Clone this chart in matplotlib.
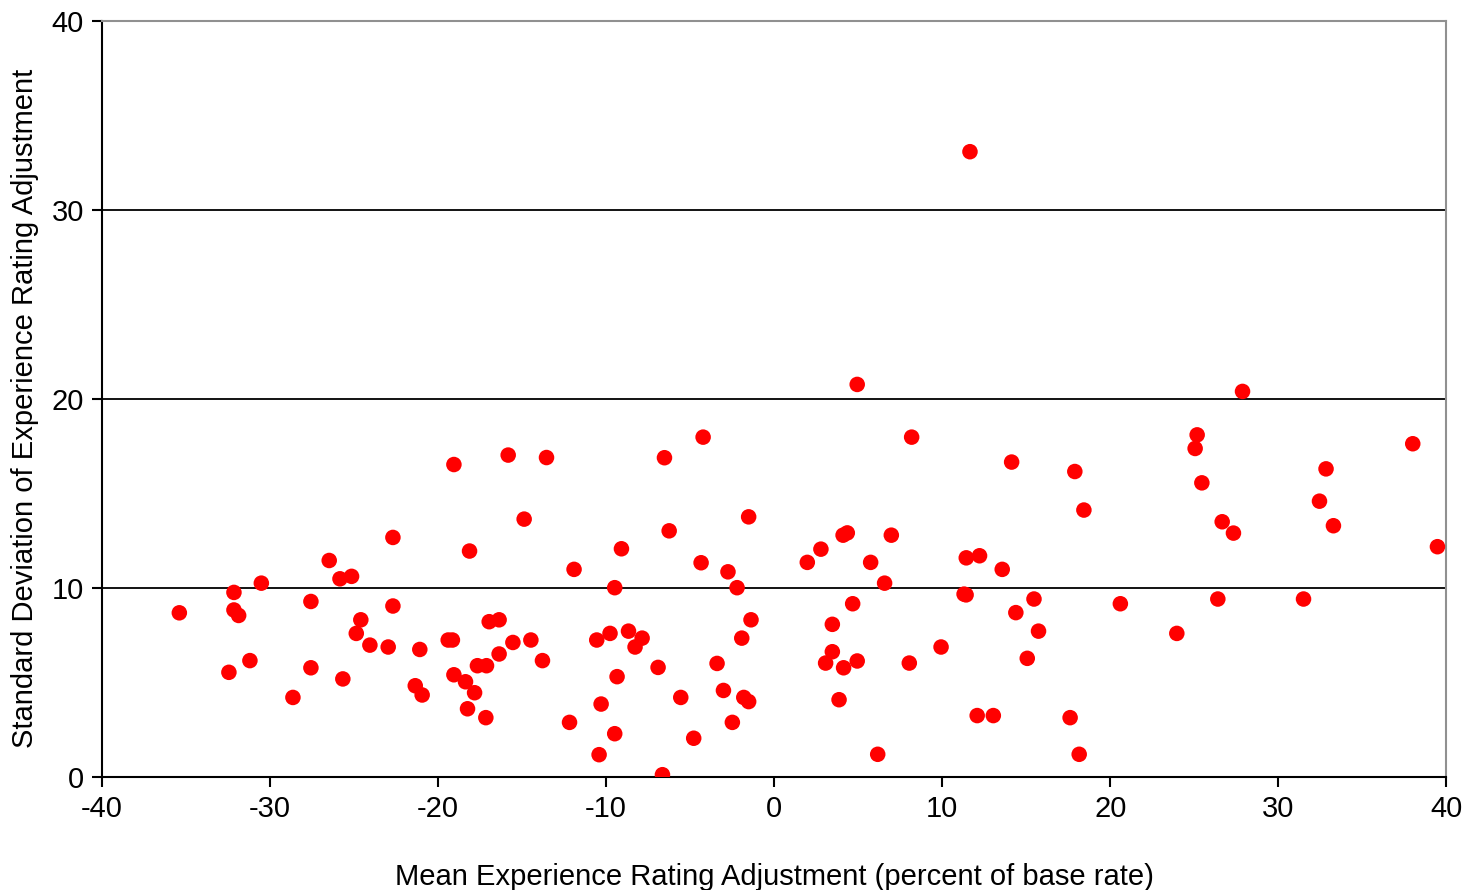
import matplotlib
matplotlib.use("Agg")
import matplotlib.pyplot as plt

plt.rcParams['font.family'] = ['Liberation Sans', 'DejaVu Sans']
plt.rcParams['axes.unicode_minus'] = False

# mean adjustment (percent of base rate)
mean_adj = [
    -35.4, -32.45, -32.15, -32.15, -31.87, -31.2, -30.52, -28.64, -27.57, -27.57,
    -26.48, -25.84, -25.67, -25.15, -24.87, -24.6, -24.06, -22.97, -22.69, -22.69,
    -21.36, -21.09, -20.95, -19.4, -19.15, -19.06, -19.06, -18.37, -18.25, -18.13,
    -17.83, -17.66, -17.16, -17.12, -16.96, -16.37, -16.37, -15.83, -15.55, -14.88,
    -14.48, -13.79, -13.55, -12.18, -11.91, -10.56, -10.42, -10.3, -9.77, -9.49,
    -9.49, -9.35, -9.09, -8.67, -8.28, -7.86, -6.91, -6.65, -6.53, -6.25,
    -5.56, -4.79, -4.35, -4.23, -3.4, -3.02, -2.75, -2.49, -2.21, -1.93,
    -1.81, -1.52, -1.52, -1.38,
    1.97, 2.78, 3.06, 3.46, 3.46, 3.86, 4.13, 4.1, 4.35, 4.67,
    4.94, 4.94, 5.74, 6.16, 6.57, 6.97, 8.04, 8.18, 9.93, 11.3,
    11.42, 11.43, 11.65, 12.08, 12.22, 13.04, 13.57, 14.13, 14.38, 15.06,
    15.46, 15.73, 17.61, 17.89, 18.15, 18.43, 20.6, 23.96, 25.05, 25.17,
    25.45, 26.4, 26.66, 27.33, 27.87, 31.5, 32.45, 32.84, 33.28, 38.0,
    39.47,
]

# standard deviation of adjustment
sd_adj = [
    8.69, 5.54, 9.77, 8.84, 8.55, 6.16, 10.26, 4.21, 9.29, 5.78,
    11.46, 10.49, 5.19, 10.62, 7.6, 8.32, 6.98, 6.88, 12.68, 9.05,
    4.83, 6.75, 4.34, 7.25, 7.25, 16.54, 5.41, 5.04, 3.61, 11.96,
    4.46, 5.89, 3.14, 5.89, 8.22, 8.32, 6.51, 17.04, 7.12, 13.65,
    7.25, 6.16, 16.91, 2.89, 10.99, 7.25, 1.18, 3.86, 7.6, 10.02,
    2.29, 5.31, 12.08, 7.72, 6.88, 7.35, 5.8, 0.12, 16.9, 13.03,
    4.21, 2.05, 11.34, 17.99, 6.01, 4.58, 10.86, 2.89, 10.02, 7.35,
    4.21, 3.99, 13.77, 8.32,
    11.36, 12.06, 6.03, 8.08, 6.63, 4.09, 5.78, 12.8, 12.92, 9.17,
    20.78, 6.14, 11.36, 1.2, 10.26, 12.8, 6.03, 17.99, 6.88, 9.68,
    9.64, 11.6, 33.1, 3.25, 11.71, 3.25, 10.99, 16.67, 8.7, 6.28,
    9.42, 7.72, 3.14, 16.17, 1.2, 14.13, 9.17, 7.6, 17.39, 18.11,
    15.57, 9.42, 13.51, 12.91, 20.41, 9.42, 14.6, 16.31, 13.3, 17.64,
    12.19,
]

fig = plt.figure(figsize=(14.66, 8.9), dpi=100)
ax = fig.add_axes([0.0696, 0.127, 0.917, 0.849])

ax.scatter(mean_adj, sd_adj, s=125, color='#ff0000', edgecolors='none', zorder=3)

ax.set_xlim(-40, 40)
ax.set_ylim(0, 40)
ax.set_xticks(range(-40, 41, 10))
ax.set_yticks(range(0, 41, 10))

for v in (10, 20, 30):
    ax.axhline(v, color='black', linewidth=1.3, zorder=1)

for side in ('top', 'right'):
    ax.spines[side].set_color('#909090')
    ax.spines[side].set_linewidth(1.5)
for side in ('left', 'bottom'):
    ax.spines[side].set_color('black')
    ax.spines[side].set_linewidth(1.5)

ax.tick_params(axis='both', direction='out', length=7, width=1.5, labelsize=21, pad=6)
ax.set_xlabel('Mean Experience Rating Adjustment (percent of base rate)', fontsize=21, labelpad=29)
ax.set_ylabel('Standard Deviation of Experience Rating Adjustment', fontsize=21)
ax.yaxis.set_label_coords(-0.047, 0.488)

fig.savefig('out.png', dpi=100)
